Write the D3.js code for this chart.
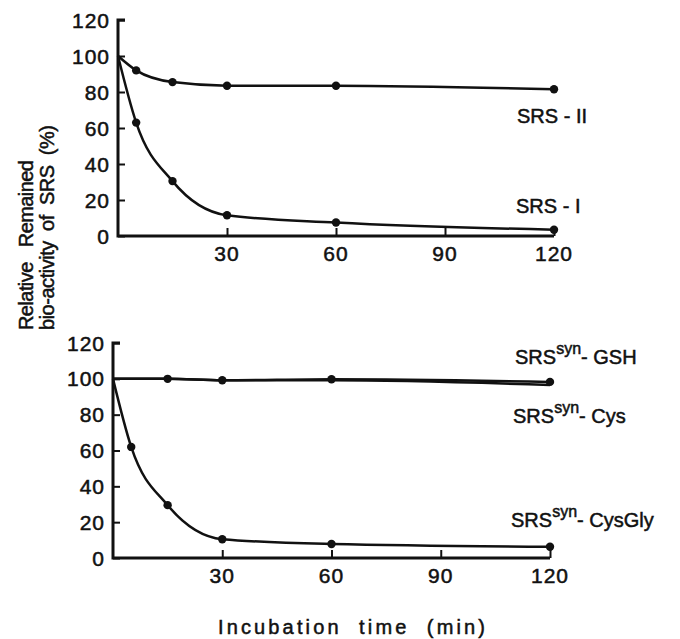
<!DOCTYPE html>
<html>
    <head>
        <meta charset="utf-8">
        <style>
            body { margin: 0; background: #fff; }
            text { font-family: "Liberation Sans", Arial, sans-serif; fill: #111; stroke: #111; stroke-width: 0.5px; white-space: pre; }
        </style>
    </head>
    <body>
        <svg width="680" height="639"></svg>
        <script src="https://d3js.org/d3.v7.min.js"></script>
        <script>
            // values
            let xTicks = [30, 60, 90, 120];
            let yTicks = [0, 20, 40, 60, 80, 100, 120];

            let timesA = [0, 5, 15, 30, 60, 120];
            let srs2 = [100, 92, 85.5, 83.5, 83.5, 81.5];
            let srs1 = [100, 63, 30.5, 11.5, 7.5, 3.5];

            let timesB = [0, 15, 30, 60, 120];
            let gsh = [100, 100, 99.2, 99.8, 98.3];
            let cys = [100, 100, 99.2, 99.2, 96.6];
            let timesC = [0, 5, 15, 30, 60, 120];
            let cysGly = [100, 62, 29.5, 10.5, 7.8, 6.3];

            let svg = d3.select("svg");
            let ink = "#111";

            function panel(x0, x1, yBottom, yTop) {
                let x = d3.scaleLinear().domain([0, 120]).range([x0, x1]);
                let y = d3.scaleLinear().domain([0, 120]).range([yBottom, yTop]);
                let g = svg.append("g");

                g.append("g").attr("transform", `translate(${x0},0)`)
                    .call(d3.axisRight(y).tickValues(yTicks).tickSize(7).tickFormat(""));
                g.append("g").attr("transform", `translate(0,${yBottom})`)
                    .call(d3.axisTop(x).tickValues(xTicks).tickSize(8).tickFormat(""));
                g.selectAll(".domain").remove();
                g.selectAll(".tick line").attr("stroke", ink).attr("stroke-width", 2);
                g.append("path")
                    .attr("d", `M${x0 + 7},${yTop} H${x0} V${yBottom} H${x1}`)
                    .attr("fill", "none").attr("stroke", ink).attr("stroke-width", 3);

                g.selectAll(".ylab").data(yTicks).enter().append("text")
                    .attr("x", x0 - 8).attr("y", d => y(d))
                    .attr("dy", "0.36em").attr("text-anchor", "end")
                    .attr("font-size", 21).attr("letter-spacing", 1)
                    .text(d => d);
                g.selectAll(".xlab").data(xTicks).enter().append("text")
                    .attr("x", d => x(d)).attr("y", yBottom + 25)
                    .attr("text-anchor", "middle")
                    .attr("font-size", 21).attr("letter-spacing", 1)
                    .text(d => d);
                return {g, x, y};
            }

            function series(p, ts, vals, dots) {
                let pts = ts.map((t, i) => [t, vals[i]]);
                let line = d3.line().x(d => p.x(d[0])).y(d => p.y(d[1])).curve(d3.curveMonotoneX);
                p.g.append("path").attr("d", line(pts))
                    .attr("fill", "none").attr("stroke", ink).attr("stroke-width", 2.5);
                if (dots) {
                    p.g.selectAll(null).data(pts.filter(d => d[0] > 0)).enter().append("circle")
                        .attr("cx", d => p.x(d[0])).attr("cy", d => p.y(d[1]))
                        .attr("r", 4.2).attr("fill", ink);
                }
            }

            function label(x, y, sup, rest) {
                let t = svg.append("text").attr("x", x).attr("y", y).attr("font-size", 20);
                t.append("tspan").text("SRS");
                if (sup) {
                    t.append("tspan").attr("dy", -10).attr("font-size", 16).text(sup);
                    t.append("tspan").attr("dy", 10).text(rest);
                } else {
                    t.append("tspan").text(rest);
                }
            }

            let upper = panel(118, 554, 236, 20);
            series(upper, timesA, srs2, true);
            series(upper, timesA, srs1, true);
            label(517, 123, null, " - II");
            label(516, 213, null, " - I");

            let lower = panel(113, 550, 558, 343);
            series(lower, timesB, cys, false);
            series(lower, timesB, gsh, true);
            series(lower, timesC, cysGly, true);
            label(515, 364, "syn", "- GSH");
            label(513, 423, "syn", "- Cys");
            label(511, 527, "syn", "- CysGly");

            svg.append("text").attr("x", 218).attr("y", 634)
                .attr("font-size", 20).attr("textLength", 267).attr("lengthAdjust", "spacing")
                .text("Incubation  time  (min)");

            svg.append("text").attr("transform", "translate(33,330) rotate(-90)")
                .attr("font-size", 20).attr("textLength", 170).attr("lengthAdjust", "spacing")
                .text("Relative   Remained");
            svg.append("text").attr("transform", "translate(54,330) rotate(-90)")
                .attr("font-size", 20).attr("textLength", 205).attr("lengthAdjust", "spacing")
                .text("bio-activity  of  SRS  (%)");
        </script>
    </body>
</html>
